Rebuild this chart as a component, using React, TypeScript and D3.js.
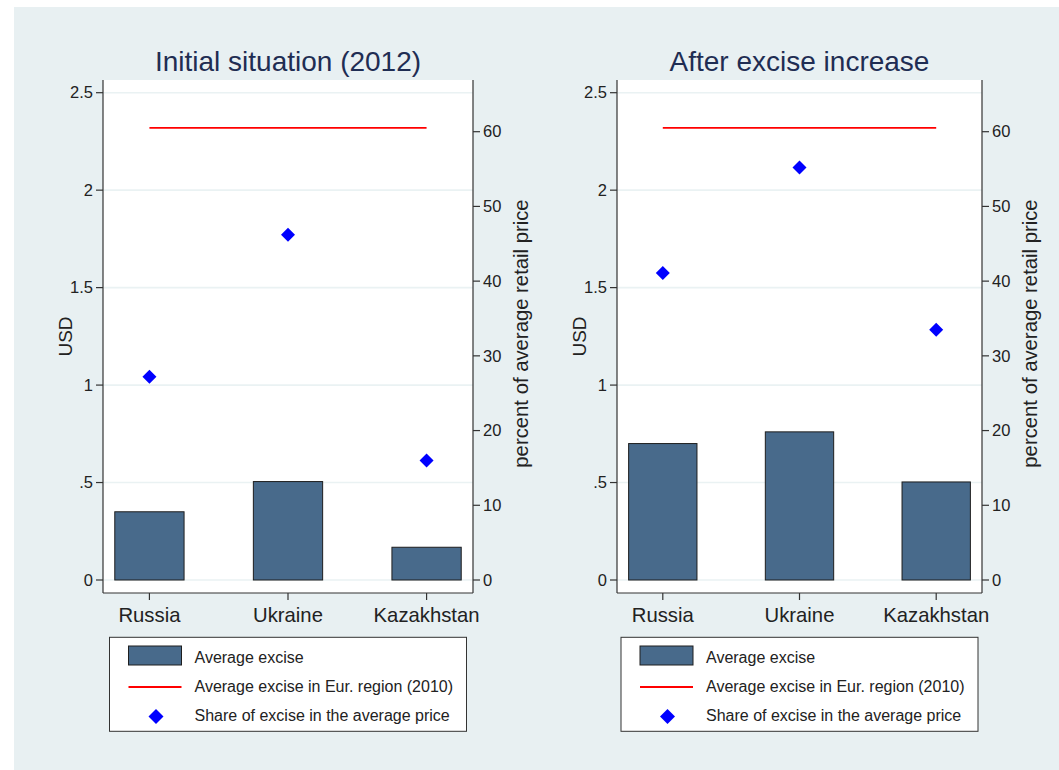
import React from "react";
import * as d3 from "d3";

// Countries shown on the x axis
const countries = ["Russia", "Ukraine", "Kazakhstan"];

// Average excise per pack, USD
const exciseInitial = [0.35, 0.505, 0.168];
const exciseAfter = [0.7, 0.76, 0.503];

// Share of excise in the average retail price, percent
const shareInitial = [27.2, 46.2, 16.0];
const shareAfter = [41.1, 55.2, 33.5];

// Average excise in the European region (2010), USD
const eurAverage = 2.32;

// Axis ticks
const usdTicks = [0, 0.5, 1, 1.5, 2, 2.5];
const pctTicks = [0, 10, 20, 30, 40, 50, 60];

const panelTitles = ["Initial situation (2012)", "After excise increase"];
const legendLabels = [
  "Average excise",
  "Average excise in Eur. region (2010)",
  "Share of excise in the average price",
];

const W = 1059;
const H = 770;
const BAR = "#486a8b";
const FONT = "Arial, 'Liberation Sans', Helvetica, sans-serif";

const PLOT_TOP = 80;
const PLOT_BOTTOM = 593;

const yUsd = d3.scaleLinear().domain([0, 2.5]).range([580, 92.7]);
const yPct = d3.scaleLinear().domain([0, 60]).range([580, 131.7]);

const fmtUsd = (v: number) => (v === 0 ? "0" : String(v).replace(/^0\./, "."));

function diamond(cx: number, cy: number, r: number) {
  return `M${cx},${cy - r}L${cx + r},${cy}L${cx},${cy + r}L${cx - r},${cy}Z`;
}

type PanelProps = {
  title: string;
  excise: number[];
  share: number[];
  left: number;
  right: number;
};

function Panel({ title, excise, share, left, right }: PanelProps) {
  const x = d3.scaleLinear().domain([0.665, 3.335]).range([left, right]);
  const half = 0.25;
  const cx = (left + right) / 2;
  const legW = 357;
  const lx = cx - legW / 2;

  return (
    <g>
      <rect x={left} y={PLOT_TOP} width={right - left} height={PLOT_BOTTOM - PLOT_TOP} fill="#ffffff" />
      {usdTicks.map((t) => (
        <line key={t} x1={left} x2={right} y1={yUsd(t)} y2={yUsd(t)} stroke="#eaf2f3" strokeWidth={1.6} />
      ))}

      {/* European average reference line */}
      <line x1={x(1)} x2={x(3)} y1={yUsd(eurAverage)} y2={yUsd(eurAverage)} stroke="#ff0000" strokeWidth={1.8} />

      {excise.map((v, i) => (
        <rect
          key={countries[i]}
          x={x(i + 1 - half)}
          y={yUsd(v)}
          width={x(i + 1 + half) - x(i + 1 - half)}
          height={yUsd(0) - yUsd(v)}
          fill={BAR}
          stroke="#1e1e1e"
          strokeWidth={1}
        />
      ))}

      {share.map((v, i) => (
        <path key={countries[i]} d={diamond(x(i + 1), yPct(v), 7)} fill="#0000ff" />
      ))}

      {/* axis lines */}
      <line x1={left} x2={left} y1={PLOT_TOP} y2={PLOT_BOTTOM} stroke="#333" strokeWidth={1.2} />
      <line x1={right} x2={right} y1={PLOT_TOP} y2={PLOT_BOTTOM} stroke="#333" strokeWidth={1.2} />
      <line x1={left} x2={right} y1={PLOT_BOTTOM} y2={PLOT_BOTTOM} stroke="#333" strokeWidth={1.2} />

      {/* left axis: USD */}
      {usdTicks.map((t) => (
        <g key={t}>
          <line x1={left - 7} x2={left} y1={yUsd(t)} y2={yUsd(t)} stroke="#333" strokeWidth={1.2} />
          <text x={left - 10} y={yUsd(t)} dy="0.35em" textAnchor="end" fontSize={16.5} fill="#222">
            {fmtUsd(t)}
          </text>
        </g>
      ))}
      <text
        transform={`translate(${left - 31},${(PLOT_TOP + PLOT_BOTTOM) / 2}) rotate(-90)`}
        textAnchor="middle"
        fontSize={19}
        fill="#222"
      >
        USD
      </text>

      {/* right axis: percent */}
      {pctTicks.map((t) => (
        <g key={t}>
          <line x1={right} x2={right + 7} y1={yPct(t)} y2={yPct(t)} stroke="#333" strokeWidth={1.2} />
          <text x={right + 10} y={yPct(t)} dy="0.35em" textAnchor="start" fontSize={16.5} fill="#222">
            {t}
          </text>
        </g>
      ))}
      <text
        transform={`translate(${right + 55},${(PLOT_TOP + PLOT_BOTTOM) / 2 - 3}) rotate(-90)`}
        textAnchor="middle"
        fontSize={20.3}
        fill="#222"
      >
        percent of average retail price
      </text>

      {/* category axis */}
      {countries.map((c, i) => (
        <g key={c}>
          <line x1={x(i + 1)} x2={x(i + 1)} y1={PLOT_BOTTOM} y2={PLOT_BOTTOM + 7} stroke="#333" strokeWidth={1.2} />
          <text x={x(i + 1)} y={622} textAnchor="middle" fontSize={20.3} fill="#222">
            {c}
          </text>
        </g>
      ))}

      <text x={cx} y={71} textAnchor="middle" fontSize={28} fill="#1f2d53">
        {title}
      </text>

      {/* legend */}
      <rect x={lx} y={637.3} width={legW} height={94} fill="#ffffff" stroke="#333" strokeWidth={1} />
      <rect x={lx + 19} y={646} width={53} height={19} fill={BAR} stroke="#1e1e1e" strokeWidth={1} />
      <line x1={lx + 19} x2={lx + 72} y1={687} y2={687} stroke="#ff0000" strokeWidth={1.8} />
      <path d={diamond(lx + 46.5, 716.5, 7.5)} fill="#0000ff" />
      {legendLabels.map((l, i) => (
        <text key={l} x={lx + 85} y={663 + i * 29} fontSize={16} fill="#222">
          {l}
        </text>
      ))}
    </g>
  );
}

export default function App() {
  return (
    <svg
      width={W}
      height={H}
      style={{ position: "absolute", left: 0, top: 0, display: "block", fontFamily: FONT }}
    >
      <rect x={0} y={0} width={W} height={H} fill="#ffffff" />
      <rect x={14} y={7} width={W - 14} height={H - 7} fill="#e8f0f2" />
      <Panel title={panelTitles[0]} excise={exciseInitial} share={shareInitial} left={103} right={473} />
      <Panel title={panelTitles[1]} excise={exciseAfter} share={shareAfter} left={617} right={982} />
    </svg>
  );
}
